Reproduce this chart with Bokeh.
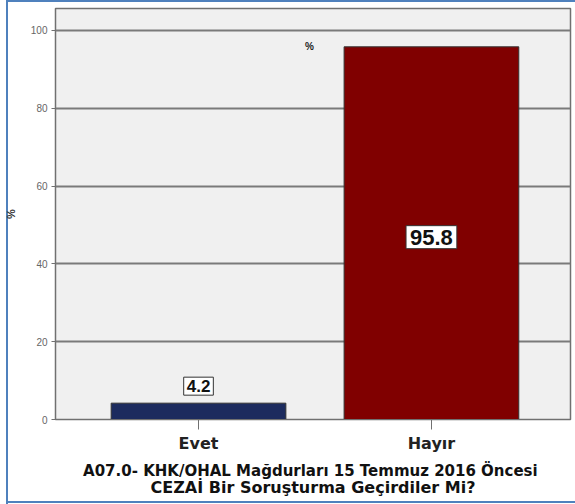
from bokeh.plotting import figure
from bokeh.models import Range1d, FixedTicker, Label, LinearAxis, ColumnDataSource
from bokeh.embed import file_html
from bokeh.resources import INLINE

categories = ["Evet", "Hayır"]
percents = [4.2, 95.8]
bar_colors = ["#1c2b5e", "#800000"]
y_ticks = [0, 20, 40, 60, 80, 100]
x_title_lines = ["A07.0-  KHK/OHAL Mağdurları 15 Temmuz 2016 Öncesi",
                 "CEZAİ Bir Soruşturma Geçirdiler Mi?"]

FONT = "Liberation Sans"
WIDE = "DejaVu Sans"
BLUE = "#4f81bd"

p = figure(width=575, height=504, output_backend="svg", toolbar_location=None,
           x_range=Range1d(-0.614, 1.597), y_range=Range1d(0, 105.65),
           min_border_left=55, min_border_right=5, min_border_top=8, min_border_bottom=85)

xs = list(range(len(categories)))
src = ColumnDataSource(dict(x=xs, top=percents, color=bar_colors))
p.vbar(x="x", top="top", width=0.75, bottom=0, fill_color="color", line_color="#333333",
       line_width=1, source=src)

p.background_fill_color = "#f0f0f0"
p.border_fill_color = None
# blue picture frame (left, top, bottom edges) painted behind the transparent canvas border
p.styles = {
    "background-color": "white",
    "background-image": (f"linear-gradient({BLUE}, {BLUE}), linear-gradient({BLUE}, {BLUE}), "
                         f"linear-gradient({BLUE}, {BLUE})"),
    "background-size": "2px 504px, 569px 2px, 569px 2px",
    "background-position": "6px 0px, 6px 0px, 6px 501px",
    "background-repeat": "no-repeat",
}
p.outline_line_color = "#707070"
p.outline_line_width = 1.5

p.xgrid.grid_line_color = None
p.ygrid.ticker = FixedTicker(ticks=y_ticks)
p.ygrid.grid_line_color = "#7a7a7a"
p.ygrid.grid_line_width = 1.8

p.yaxis.ticker = FixedTicker(ticks=y_ticks)
p.yaxis.axis_label = "%"
p.yaxis.axis_label_text_font = FONT
p.yaxis.axis_label_text_font_size = "11px"
p.yaxis.axis_label_text_font_style = "bold"
p.yaxis.axis_label_text_color = "#333333"
p.yaxis.axis_label_standoff = 11
p.yaxis.major_label_text_font = FONT
p.yaxis.major_label_text_font_size = "10px"
p.yaxis.major_label_text_color = "#666666"
p.yaxis.major_tick_out = 4
p.yaxis.major_tick_in = 0
p.yaxis.minor_tick_line_color = None
p.yaxis.axis_line_color = "#707070"
p.yaxis.major_tick_line_color = "#707070"
p.yaxis.major_label_standoff = 4

p.xaxis.ticker = FixedTicker(ticks=xs)
p.xaxis.major_label_overrides = {i: c for i, c in enumerate(categories)}
p.xaxis.major_label_text_font = WIDE
p.xaxis.major_label_text_font_size = "16px"
p.xaxis.major_label_text_font_style = "bold"
p.xaxis.major_label_text_color = "#222222"
p.xaxis.major_tick_out = 10
p.xaxis.major_tick_in = 0
p.xaxis.minor_tick_line_color = None
p.xaxis.axis_line_color = "#707070"
p.xaxis.major_tick_line_color = "#707070"
p.xaxis.major_label_standoff = 4
p.xaxis.axis_label = x_title_lines[0]
p.xaxis.axis_label_text_font = WIDE
p.xaxis.axis_label_text_font_size = "15px"
p.xaxis.axis_label_text_font_style = "bold"
p.xaxis.axis_label_text_color = "#111111"
p.xaxis.axis_label_standoff = 6

# second line of the x title as the label of a bare axis below the first
title2 = LinearAxis(ticker=FixedTicker(ticks=[]), axis_line_color=None,
                    major_tick_line_color=None, minor_tick_line_color=None,
                    major_label_text_font_size="0px", major_tick_out=0, minor_tick_out=0,
                    major_tick_in=0, minor_tick_in=0, major_label_standoff=0,
                    axis_label=x_title_lines[1], axis_label_text_font=WIDE,
                    axis_label_text_font_size="16px", axis_label_text_font_style="bold",
                    axis_label_text_color="#111111", axis_label_standoff=-5)
p.add_layout(title2, "below")

# data labels
lab_big = Label(x=xs[1], y=percents[1] / 2, y_offset=-4, text=f"{percents[1]}", text_align="center",
                text_baseline="middle", text_font=FONT, text_font_size="22px",
                text_font_style="bold", text_color="#111111",
                background_fill_color="white", border_line_color="#333333", border_line_width=1,
                padding=4)
p.add_layout(lab_big)
lab_small = Label(x=xs[0], y=percents[0], y_offset=17, text=f"{percents[0]}", text_align="center",
                  text_baseline="middle", text_font=FONT, text_font_size="17px",
                  text_font_style="bold", text_color="#111111",
                  background_fill_color="white", border_line_color="#333333", border_line_width=1,
                  padding=3)
p.add_layout(lab_small)
pct = Label(x=xs[1] - 0.524, y=percents[1], text="%", text_align="center", text_baseline="middle",
            text_font=FONT, text_font_size="10px", text_font_style="bold", text_color="#222222")
p.add_layout(pct)

open("out.html", "w").write(file_html(p, INLINE))
